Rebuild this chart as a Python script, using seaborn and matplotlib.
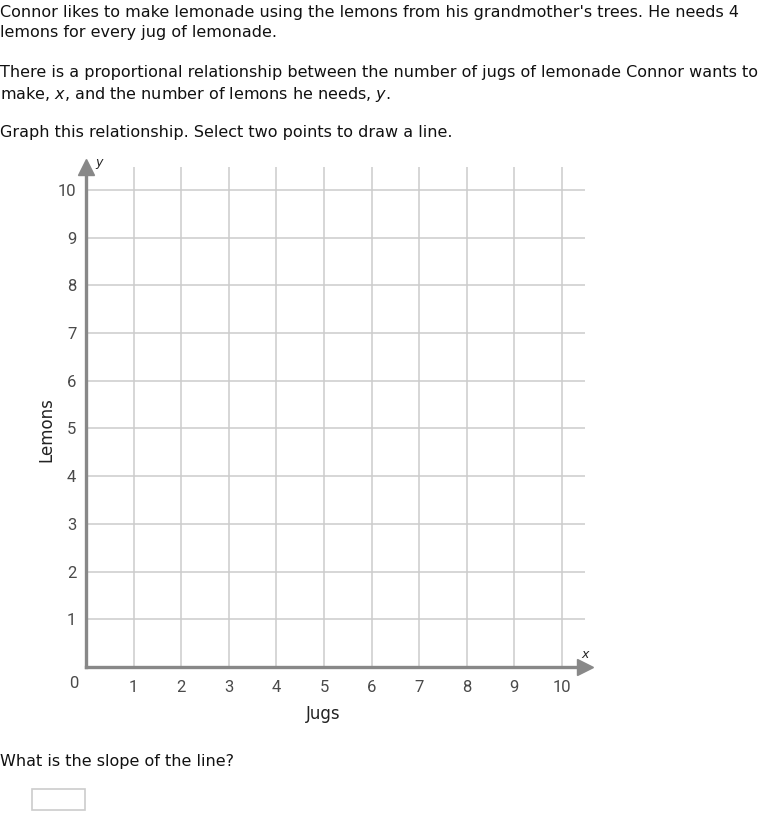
import matplotlib
matplotlib.use("Agg")
import matplotlib.pyplot as plt
import seaborn as sns
import numpy as np
from matplotlib.patches import Rectangle

# ---- data ----
x_ticks = [1, 2, 3, 4, 5, 6, 7, 8, 9, 10]
y_ticks = [1, 2, 3, 4, 5, 6, 7, 8, 9, 10]
x_label = "Jugs"
y_label = "Lemons"
para1 = ["Connor likes to make lemonade using the lemons from his grandmother's trees. He needs 4",
         "lemons for every jug of lemonade."]
para2 = ["There is a proportional relationship between the number of jugs of lemonade Connor wants to",
         "make, $x$, and the number of lemons he needs, $y$."]
para3 = ["Graph this relationship. Select two points to draw a line."]
question = "What is the slope of the line?"

sns.set_theme(style="white")
plt.rcParams['font.family'] = ['DejaVu Sans']
plt.rcParams['mathtext.fontset'] = 'dejavusans'

W, H = 760, 813
fig = plt.figure(figsize=(W / 100, H / 100), dpi=100)
fig.patch.set_facecolor("white")

def fy(p):
    return 1 - p / H

# axes box in pixels
L, R, T, B = 86, 585, 167, 667
ax = fig.add_axes([L / W, fy(B), (R - L) / W, (B - T) / H])
unit_x = (562 - 86) / 10
unit_y = (667 - 190) / 10
ax.set_xlim(0, (R - L) / unit_x)
ax.set_ylim(0, (B - T) / unit_y)

grid_c = "#cccccc"
for v in x_ticks:
    ax.axvline(v, color=grid_c, lw=1.1, zorder=1)
for v in y_ticks:
    ax.axhline(v, color=grid_c, lw=1.1, zorder=1)

for s in ["top", "right"]:
    ax.spines[s].set_visible(False)
for s in ["left", "bottom"]:
    ax.spines[s].set_color("#888888")
    ax.spines[s].set_linewidth(2.4)
    ax.spines[s].set_zorder(3)

tick_font = dict(family="Roboto", size=12, color="#4a4a4a")
ax.set_xticks(x_ticks)
ax.set_xticklabels([str(v) for v in x_ticks], fontdict=tick_font)
ax.set_yticks(y_ticks)
ax.set_yticklabels([str(v) for v in y_ticks], fontdict=tick_font)
ax.tick_params(axis="both", length=0)
ax.tick_params(axis="x", pad=9)
ax.tick_params(axis="y", pad=7)
ax.annotate("0", xy=(0, 0), xycoords="data", xytext=(-9, -12), textcoords="offset points",
            ha="center", va="center", **tick_font)

# arrows
xmax = ax.get_xlim()[1]
ymax = ax.get_ylim()[1]
ax.plot([0], [ymax], marker="^", markersize=11, color="#888888", clip_on=False, zorder=4)
ax.plot([xmax], [0], marker=">", markersize=11, color="#888888", clip_on=False, zorder=4)
ax.annotate("y", xy=(0, ymax), xytext=(7, 3), textcoords="offset points", fontsize=9,
            style="italic", ha="left", va="center", color="#222222")
ax.annotate("x", xy=(xmax, 0), xytext=(0, 9), textcoords="offset points", fontsize=9,
            style="italic", ha="center", va="center", color="#222222")

# axis labels
fig.text(323 / W, fy(714), x_label, ha="center", va="center", fontsize=12,
         family="DejaVu Sans", color="#222222")
fig.text(46 / W, fy(430), y_label, ha="center", va="center", rotation=90, fontsize=12,
         family="DejaVu Sans", color="#222222")

# question text
txt_kw = dict(ha="left", va="center", fontsize=11.5, color="#111111")
fig.text(0.0, fy(12), para1[0], **txt_kw)
fig.text(0.0, fy(33), para1[1], **txt_kw)
fig.text(0.0, fy(73), para2[0], **txt_kw)
fig.text(0.0, fy(95), para2[1], **txt_kw)
fig.text(0.0, fy(133), para3[0], **txt_kw)
fig.text(0.0, fy(761), question, **txt_kw)

fig.patches.append(Rectangle((32 / W, fy(810)), 53 / W, 21 / H, transform=fig.transFigure,
                             facecolor="white", edgecolor="#cccccc", lw=1.2))

fig.savefig("out.png", dpi=100, facecolor="white")
